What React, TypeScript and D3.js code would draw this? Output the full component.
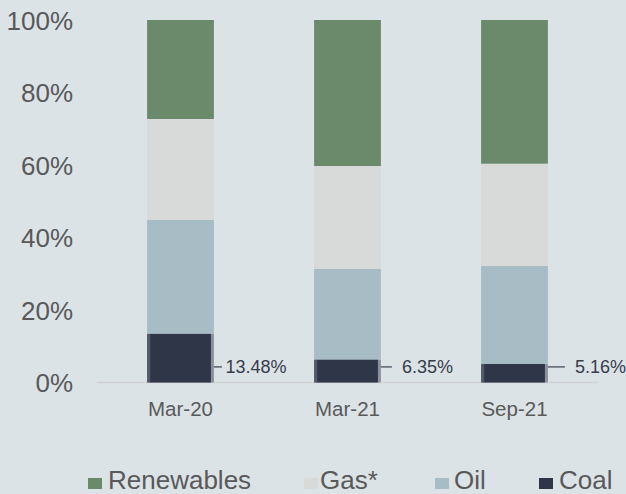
import React from "react";
import * as d3 from "d3";

const categories = ["Mar-20", "Mar-21", "Sep-21"];
const coal = [13.48, 6.35, 5.16];
const oil = [31.35, 24.96, 26.98];
const gas = [27.86, 28.41, 28.22];
const renewables = [27.31, 40.28, 39.64];
const yTicks = [0, 20, 40, 60, 80, 100];
const seriesNames = ["Coal", "Oil", "Gas*", "Renewables"];
const legendOrder = ["Renewables", "Gas*", "Oil", "Coal"];

const W = 626;
const H = 494;
const colors: Record<string, string> = {
  Coal: "#2f3648",
  Oil: "#a7bcc4",
  "Gas*": "#d8d9d9",
  Renewables: "#6b8a6c",
};
const labelOffsets = [
  { line: 8, gap: 3.5 },
  { line: 11, gap: 10 },
  { line: 17, gap: 10 },
];
const legendPos = [
  { sq: 88, tx: 108 },
  { sq: 304, tx: 320 },
  { sq: 435, tx: 454 },
  { sq: 539, tx: 559 },
];

export default function App() {
  const x = d3
    .scaleBand<string>()
    .domain(categories)
    .range([97, 598])
    .paddingInner(0.6)
    .paddingOuter(0.3);
  const y = d3.scaleLinear().domain([0, 100]).range([382.5, 20]);

  const rows = categories.map((c, i) => ({
    cat: c,
    Coal: coal[i],
    Oil: oil[i],
    "Gas*": gas[i],
    Renewables: renewables[i],
  }));
  const stack = d3.stack<any>().keys(seriesNames)(rows);
  const bw = x.bandwidth();
  const textColor = "#595959";
  const font = "Liberation Sans, Arial, sans-serif";

  return (
    <svg
      width={W}
      height={H}
      style={{ position: "absolute", left: 0, top: 0, display: "block" }}
      fontFamily={font}
    >
      <rect x={0} y={0} width={W} height={H} fill="#dce3e6" />
      {yTicks.map((t) => (
        <text
          key={t}
          x={73}
          y={y(t) + 9.5}
          textAnchor="end"
          fontSize={26}
          fill={textColor}
        >
          {t}%
        </text>
      ))}
      <line x1={97} x2={598} y1={y(0)} y2={y(0)} stroke="#cfd3d5" strokeWidth={1.5} />
      {stack.map((s) => (
        <g key={s.key}>
          {s.map((d, i) => {
            const x0 = x(categories[i])!;
            const top = y(d[1]);
            const h = y(d[0]) - y(d[1]);
            if (s.key === "Coal") {
              return (
                <g key={i}>
                  <rect x={x0} y={top} width={bw} height={h} fill="#8b909a" />
                  <rect x={x0} y={top} width={3} height={h} fill="#535a67" />
                  <rect x={x0 + 3} y={top} width={bw - 6} height={h} fill={colors.Coal} />
                </g>
              );
            }
            return <rect key={i} x={x0} y={top} width={bw} height={h} fill={colors[s.key]} />;
          })}
        </g>
      ))}
      {categories.map((c, i) => {
        const x1 = x(c)! + bw;
        const ly = y(4.3);
        const o = labelOffsets[i];
        return (
          <g key={c}>
            <line x1={x1} x2={x1 + o.line} y1={ly} y2={ly} stroke="#3a4050" strokeWidth={1.2} />
            <text x={x1 + o.line + o.gap} y={ly + 6} fontSize={18} fill="#363c4c">
              {coal[i].toFixed(2)}%
            </text>
            <text
              x={x(c)! + bw / 2}
              y={415.5}
              textAnchor="middle"
              fontSize={20.5}
              fill={textColor}
            >
              {c}
            </text>
          </g>
        );
      })}
      {legendOrder.map((k, i) => (
        <g key={k}>
          <rect x={legendPos[i].sq} y={478} width={14} height={11} fill={colors[k]} />
          <text x={legendPos[i].tx} y={488.5} fontSize={26} fill={textColor}>
            {k}
          </text>
        </g>
      ))}
    </svg>
  );
}
